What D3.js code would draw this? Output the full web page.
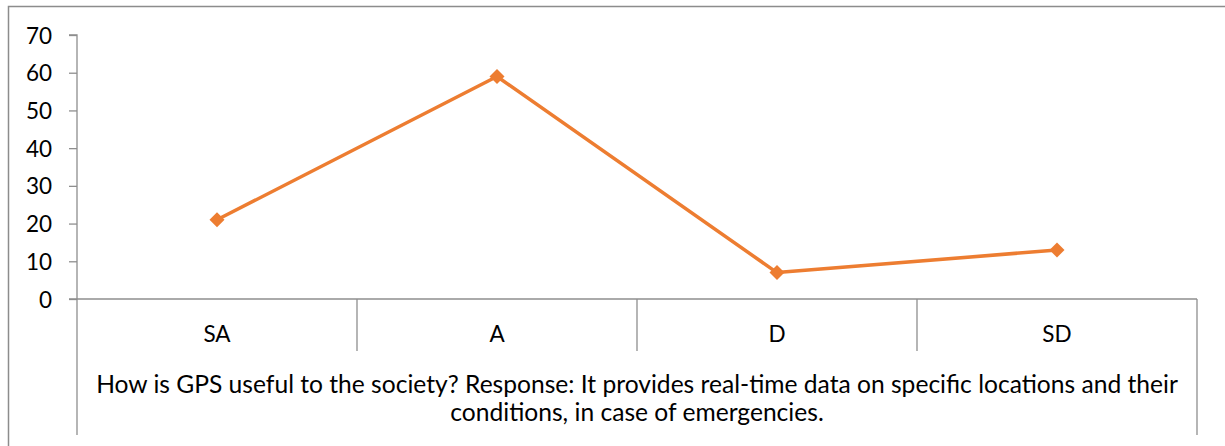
<!DOCTYPE html>
<html><head><meta charset="utf-8">
<script src="https://cdn.jsdelivr.net/npm/d3@7"></script>
<style>body{margin:0;background:#fff}svg{display:block}</style>
</head><body>
<script>
const categories = ["SA", "A", "D", "SD"];
const values = [21, 59, 7, 13];
const yTicks = [0, 10, 20, 30, 40, 50, 60, 70];
const titleLines = ["How is GPS useful to the society? Response: It provides real-time data on specific locations and their", "conditions, in case of emergencies."];

const W = 1225, H = 446;
const font = "Lato, 'Noto Sans', sans-serif";
const svg = d3.select("body").append("svg").attr("width", W).attr("height", H);
svg.append("rect").attr("width", W).attr("height", H).attr("fill", "#fff");
// outer frame (clipped at right/bottom)
svg.append("path").attr("d", "M8.5,460 V6.5 H1240").attr("fill", "none").attr("stroke", "#8c8c8c").attr("stroke-width", 1.5);

const x = d3.scaleBand().domain(categories).range([77, 1197]);
const y = d3.scaleLinear().domain([0, 70]).range([299, 35]);
const axisColor = "#8e8e8e";

// y axis
const ya = svg.append("g").attr("transform", "translate(77,0)")
  .call(d3.axisLeft(y).tickValues(yTicks).tickSize(8).tickPadding(17).tickFormat(d3.format("d")));
ya.select(".domain").attr("stroke", axisColor).attr("stroke-width", 1.3).attr("d", `M-8,${y(70)}H0V${y(0)}`);
ya.selectAll(".tick line").attr("stroke", axisColor).attr("stroke-width", 1.3);
ya.selectAll(".tick text").attr("font-family", font).attr("font-size", 22.5).attr("fill", "#000").attr("dy", "0.36em");

// x axis line
svg.append("line").attr("x1", 69).attr("x2", 1197).attr("y1", y(0)).attr("y2", y(0)).attr("stroke", axisColor).attr("stroke-width", 1.3);
// category separators
const seps = categories.map(c => x(c)).concat([x.range()[1]]);
svg.selectAll(".sep").data(seps).join("line")
  .attr("x1", d => d).attr("x2", d => d)
  .attr("y1", y(0)).attr("y2", (d, i) => (i === 0 || i === seps.length - 1) ? 435 : 351)
  .attr("stroke", axisColor).attr("stroke-width", 1.3);
// category labels
svg.selectAll(".cat").data(categories).join("text")
  .attr("x", d => x(d) + x.bandwidth() / 2).attr("y", 342)
  .attr("text-anchor", "middle").attr("font-family", font).attr("font-size", 22.5).attr("fill", "#000").text(d => d);
// title lines
svg.selectAll(".ttl").data(titleLines).join("text")
  .attr("x", (x.range()[0] + x.range()[1]) / 2).attr("y", (d, i) => 393 + i * 28)
  .attr("text-anchor", "middle").attr("font-family", font).attr("font-size", 24.6).attr("fill", "#000").text(d => d);

// line
const pts = categories.map((c, i) => [x(c) + x.bandwidth() / 2, y(values[i])]);
svg.append("path").attr("d", d3.line()(pts)).attr("fill", "none").attr("stroke", "#ED7D31").attr("stroke-width", 3.5).attr("stroke-linejoin", "round");
svg.selectAll(".mk").data(pts).join("path")
  .attr("transform", d => `translate(${d[0]},${d[1]})`)
  .attr("d", "M0,-7.5L7.5,0L0,7.5L-7.5,0Z").attr("fill", "#ED7D31");
</script>
</body></html>
